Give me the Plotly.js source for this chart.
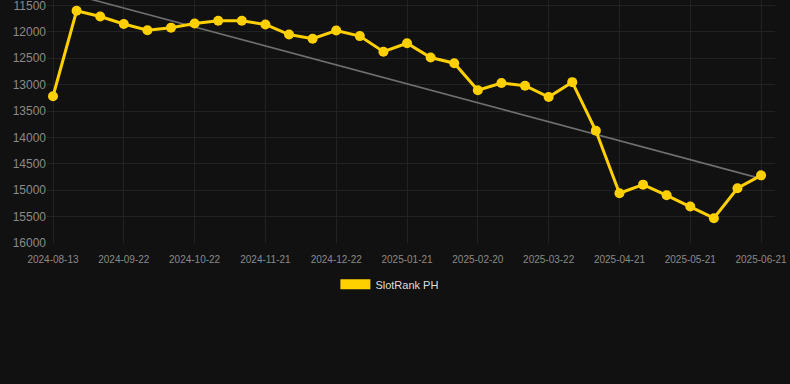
<!DOCTYPE html>
<html>
<head>
<meta charset="utf-8">
<script src="https://cdn.plot.ly/plotly-3.0.1.min.js"></script>
<style>html,body{margin:0;padding:0;background:#111111;}#chart{width:790px;height:384px;}</style>
</head>
<body>
<div id="chart"></div>
<script>
const dates = ["2024-08-13","2024-08-30","2024-09-11","2024-09-22","2024-10-02","2024-10-12","2024-10-22","2024-11-01","2024-11-11","2024-11-21","2024-12-01","2024-12-11","2024-12-22","2025-01-01","2025-01-11","2025-01-21","2025-01-31","2025-02-10","2025-02-20","2025-03-02","2025-03-12","2025-03-22","2025-04-01","2025-04-11","2025-04-21","2025-05-01","2025-05-11","2025-05-21","2025-05-31","2025-06-10","2025-06-21"];
const ranks = [13220,11600,11710,11850,11970,11920,11840,11790,11790,11860,12050,12130,11975,12080,12375,12215,12487,12593,13105,12970,13020,13235,12952,13873,15058,14894,15096,15310,15530,14963,14718];
const tickDates = ["2024-08-13","2024-09-22","2024-10-22","2024-11-21","2024-12-22","2025-01-21","2025-02-20","2025-03-22","2025-04-21","2025-05-21","2025-06-21"];
const trendX = ["2024-08-13","2025-06-21"];
const trendY = [11190, 14780];
const seriesName = "SlotRank PH";

const gold = "#FFD000";
const traces = [
  {x: trendX, y: trendY, type: "scatter", mode: "lines", line: {color: "#6e6e6e", width: 1.6}, showlegend: false, hoverinfo: "skip"},
  {x: dates, y: ranks, type: "scatter", mode: "lines+markers", name: seriesName,
   line: {color: gold, width: 3}, marker: {color: gold, size: 10}, showlegend: false},
  {x: [null], y: [null], type: "scatter", mode: "lines", name: seriesName, line: {color: gold, width: 12}, showlegend: true}
];
const layout = {
  width: 790, height: 384,
  paper_bgcolor: "#111111", plot_bgcolor: "#111111",
  margin: {l: 47, r: 15, t: 0, b: 140.5},
  xaxis: {type: "category", categoryorder: "array", categoryarray: dates,
    range: [-0.254, 30.59], tickvals: tickDates, ticktext: tickDates,
    showgrid: true, gridcolor: "#222222", zeroline: false, showline: false,
    ticklabelstandoff: 9,
    tickfont: {family: "Arial, Liberation Sans, sans-serif", size: 10, color: "#8a8a8a"}, ticks: ""},
  yaxis: {range: [16000, 11396], dtick: 500, tick0: 11500, tickformat: "d", showgrid: true, gridcolor: "#222222",
    zeroline: false, showline: false, ticks: "", ticklabeloverflow: "allow",
    tickfont: {family: "Arial, Liberation Sans, sans-serif", size: 12, color: "#8a8a8a"}},
  legend: {orientation: "h", x: 0.471, xanchor: "center", y: -0.11, yanchor: "top",
    font: {family: "Arial, Liberation Sans, sans-serif", size: 11, color: "#dddddd"}, bgcolor: "rgba(0,0,0,0)"},
  showlegend: true
};
Plotly.newPlot("chart", traces, layout, {displayModeBar: false, staticPlot: true});
</script>
</body>
</html>
